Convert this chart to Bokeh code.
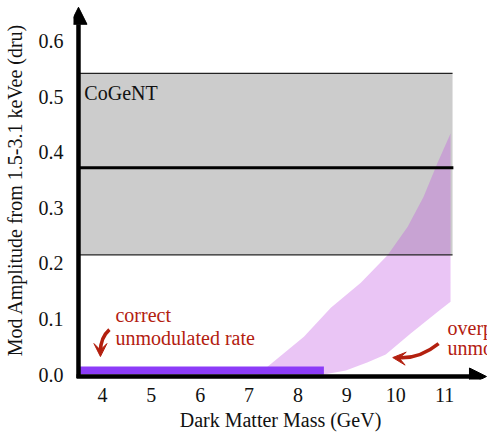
from bokeh.plotting import figure
from bokeh.models import Range1d, FixedTicker, PrintfTickFormatter, Arrow, NormalHead, VeeHead
from bokeh.core.properties import value
from bokeh.embed import file_html
from bokeh.resources import INLINE

# ---- data ----
x_ticks = [4, 5, 6, 7, 8, 9, 10, 11]
y_ticks = [0.0, 0.1, 0.2, 0.3, 0.4, 0.5, 0.6]

# CoGeNT band
cogent_x = [3.51, 11.163]
cogent_low = 0.2154
cogent_high = 0.542
cogent_central = 0.372
cogent_line_end = 11.18

# predicted modulation amplitude region (upper and lower edges)
upper_mass = [7.184, 8.122, 8.673, 9.286, 9.837, 10.245, 10.571, 10.857, 11.122]
upper_amp = [0.0, 0.068, 0.120, 0.165, 0.215, 0.266, 0.320, 0.381, 0.434]
lower_mass = [8.531, 8.980, 9.429, 9.796, 10.306, 10.918, 11.122]
lower_amp = [0.0, 0.007, 0.022, 0.036, 0.074, 0.117, 0.131]

# correct unmodulated rate range
correct_mass = [3.51, 8.531]
correct_amp = [0.0, 0.0144]

FONT = "Liberation Serif"
RED = "#b3200f"

p = figure(width=487, height=433,
           x_range=Range1d(3.408, 11.878), y_range=Range1d(-0.009, 0.6732),
           output_backend="svg", toolbar_location=None,
           min_border_left=72, min_border_right=0, min_border_top=0, min_border_bottom=53)
p.outline_line_color = None
p.grid.visible = False
p.background_fill_color = "white"

# axes
p.xaxis.ticker = FixedTicker(ticks=x_ticks)
p.yaxis.ticker = FixedTicker(ticks=y_ticks)
p.yaxis.formatter = PrintfTickFormatter(format="%.1f")
for ax in (p.xaxis[0], p.yaxis[0]):
    ax.axis_line_color = None
    ax.major_tick_line_color = None
    ax.minor_tick_line_color = None
    ax.major_label_text_font = FONT
    ax.major_label_text_font_size = "20px"
    ax.major_label_text_color = "#111111"
    ax.axis_label_text_font = FONT
    ax.axis_label_text_font_size = "20px"
    ax.axis_label_text_font_style = "normal"
    ax.axis_label_text_color = "#111111"
p.xaxis.axis_label = "Dark Matter Mass (GeV)"
p.yaxis.axis_label = "Mod Amplitude from 1.5-3.1 keVee (dru)"
p.xaxis.major_label_standoff = 2
p.xaxis.axis_label_standoff = 4
p.yaxis.major_label_standoff = 4
p.yaxis.axis_label_standoff = 10

# CoGeNT band
p.quad(left=cogent_x[0], right=cogent_x[1], bottom=cogent_low, top=cogent_high,
       fill_color="#cccccc", line_color=None)

# predicted region
px = upper_mass + lower_mass[::-1]
py = upper_amp + lower_amp[::-1]
p.patch(px, py, fill_color="#bf4fe0", fill_alpha=0.33, line_color=None)

# band edges and central value
p.segment(x0=[cogent_x[0], cogent_x[0]], y0=[cogent_low, cogent_high],
          x1=[cogent_x[1], cogent_x[1]], y1=[cogent_low, cogent_high],
          line_color="#222222", line_width=1.2)
p.segment(x0=[cogent_x[0]], y0=[cogent_central], x1=[cogent_line_end], y1=[cogent_central],
          line_color="black", line_width=3)

# correct rate bar
p.quad(left=correct_mass[0], right=correct_mass[1], bottom=correct_amp[0], top=correct_amp[1],
       fill_color="#8c3cf8", line_color=None)

# texts
p.text(x=[3.63], y=[0.507], text=["CoGeNT"], text_font=value(FONT), text_font_size=value("20px"),
       text_color="#111111", text_baseline="alphabetic", text_align="left")
p.text(x=[4.267, 4.267], y=[0.1076, 0.0666], text=["correct", "unmodulated rate"],
       text_font=value(FONT), text_font_size=value("20px"), text_color=RED,
       text_baseline="alphabetic", text_align="left")
p.text(x=[11.06, 11.06], y=[0.0846, 0.0486], text=["overpredicted", "unmodulated rate"],
       text_font=value(FONT), text_font_size=value("20px"), text_color=RED,
       text_baseline="alphabetic", text_align="left")

# curved red arrows
p.quadratic(x0=[4.143], y0=[0.0808], x1=[3.959], y1=[0.0413], cx=[3.959], cy=[0.0664],
            line_color=RED, line_width=3.5)
p.add_layout(Arrow(end=VeeHead(size=13, fill_color=RED, line_color=RED),
                   x_start=3.959, y_start=0.0449, x_end=3.959, y_end=0.0323,
                   line_color=RED, line_width=3.5))
p.quadratic(x0=[10.878], y0=[0.0557], x1=[10.02], y1=[0.0305], cx=[10.469], cy=[0.0269],
            line_color=RED, line_width=3.5)
p.add_layout(Arrow(end=VeeHead(size=13, fill_color=RED, line_color=RED),
                   x_start=10.102, y_start=0.0293, x_end=9.939, y_end=0.0305,
                   line_color=RED, line_width=3.5))

# axis arrows
p.add_layout(Arrow(end=NormalHead(size=17, fill_color="black", line_color="black"),
                   x_start=3.51, y_start=-0.0065, x_end=3.51, y_end=0.661,
                   line_color="black", line_width=4.5))
p.add_layout(Arrow(end=NormalHead(size=17, fill_color="black", line_color="black"),
                   x_start=3.47, y_start=-0.0036, x_end=11.857, y_end=-0.0036,
                   line_color="black", line_width=4.5))

open("out.html", "w").write(file_html(p, INLINE))
